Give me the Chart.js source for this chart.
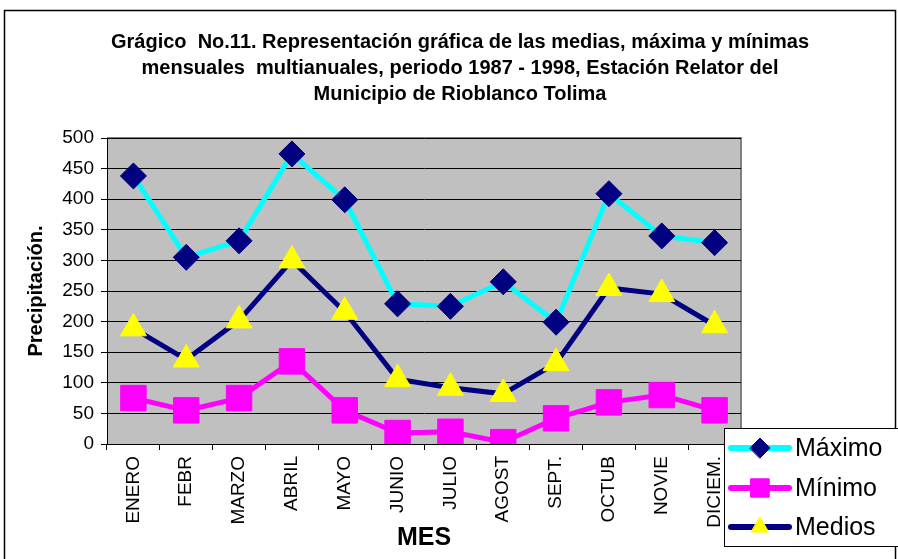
<!DOCTYPE html>
<html>
<head>
<meta charset="utf-8">
<script src="https://cdn.jsdelivr.net/npm/chart.js@4"></script>
<style>
  body { margin: 0; background: #fff; }
  #wrap { width: 898px; height: 559px; }
</style>
</head>
<body>
<div id="wrap"><canvas id="chart" width="898" height="559"></canvas></div>
<script>
let months = ["ENERO","FEBR","MARZO","ABRIL","MAYO","JUNIO","JULIO","AGOST","SEPT.","OCTUB","NOVIE","DICIEM."];
let maximo = [438, 305, 332, 474, 399, 229, 225, 265, 199, 409, 340, 329];
let minimo = [75, 55, 75, 135, 55, 18, 20, 3, 42, 68, 80, 55];
let medios = [189, 138, 202, 300, 216, 106, 92, 82, 132, 255, 245, 194];
let titleLines = [
    "Grágico  No.11. Representación gráfica de las medias, máxima y mínimas",
    "mensuales  multianuales, periodo 1987 - 1998, Estación Relator del",
    "Municipio de Rioblanco Tolima"
];

const FONT = "Arial, 'Liberation Sans', sans-serif";

/* fondo gris, borde exterior, titulo y leyenda */
const decor = {
    id: "decor",
    beforeDraw(chart) {
        let ctx = chart.ctx, a = chart.chartArea;
        ctx.save();
        ctx.fillStyle = "#fff";
        ctx.fillRect(0, 0, chart.width, chart.height);
        ctx.fillStyle = "#c0c0c0";
        ctx.fillRect(a.left, a.top, a.right - a.left, a.bottom - a.top);
        ctx.strokeStyle = "#808080";
        ctx.lineWidth = 2;
        ctx.beginPath();
        ctx.moveTo(a.left, a.top);
        ctx.lineTo(a.right, a.top);
        ctx.lineTo(a.right, a.bottom);
        ctx.stroke();
        ctx.restore();
    },
    afterDraw(chart) {
        let ctx = chart.ctx;
        ctx.save();
        // borde exterior
        ctx.strokeStyle = "#000";
        ctx.lineWidth = 1.5;
        ctx.strokeRect(4.5, 10.5, 891, 600);

        // titulo
        ctx.fillStyle = "#000";
        ctx.font = "bold 20px " + FONT;
        ctx.textAlign = "center";
        ctx.textBaseline = "middle";
        titleLines.forEach((t, i) => ctx.fillText(t, 460, 42 + i * 26));

        // leyenda
        ctx.fillStyle = "#fff";
        ctx.fillRect(724, 428, 180, 118);
        ctx.strokeStyle = "#000";
        ctx.lineWidth = 1;
        ctx.strokeRect(724.5, 428.5, 180, 118);
        let rows = [448, 488, 527];
        chart.data.datasets.forEach((ds, i) => {
            let y = rows[i];
            ctx.strokeStyle = ds.borderColor;
            ctx.lineWidth = 6;
            ctx.lineCap = "round";
            ctx.beginPath();
            ctx.moveTo(731, y);
            ctx.lineTo(789, y);
            ctx.stroke();

            ctx.lineWidth = 1;
            ctx.fillStyle = ds.pointBackgroundColor;
            ctx.strokeStyle = ds.pointBorderColor;
            Chart.helpers.drawPoint(ctx, {
                pointStyle: ds.pointStyle,
                radius: ds.pointStyle === "rect" ? 13 : 10,
                borderWidth: 1
            }, 760, y);

            ctx.fillStyle = "#000";
            ctx.font = "25px " + FONT;
            ctx.textAlign = "left";
            ctx.textBaseline = "middle";
            ctx.fillText(ds.label, 795, y + 1);
        });
        ctx.restore();
    }
};

new Chart(document.getElementById("chart"), {
    type: "line",
    data: {
        labels: months,
        datasets: [
            {
                label: "Máximo",
                data: maximo,
                borderColor: "#00ffff",
                borderWidth: 5,
                pointStyle: "rectRot",
                pointRadius: 13,
                pointBackgroundColor: "#000080",
                pointBorderColor: "#000080",
                pointBorderWidth: 1,
                order: 3
            },
            {
                label: "Mínimo",
                data: minimo,
                borderColor: "#ff00ff",
                borderWidth: 5,
                pointStyle: "rect",
                pointRadius: 18,
                pointBackgroundColor: "#ff00ff",
                pointBorderColor: "#ff00ff",
                pointBorderWidth: 1,
                order: 2
            },
            {
                label: "Medios",
                data: medios,
                borderColor: "#000080",
                borderWidth: 5,
                pointStyle: "triangle",
                pointRadius: 15,
                pointBackgroundColor: "#ffff00",
                pointBorderColor: "#ffff00",
                pointBorderWidth: 1,
                order: 1
            }
        ]
    },
    options: {
        responsive: false,
        animation: false,
        devicePixelRatio: 1,
        layout: { padding: { left: 5, right: 157, top: 138, bottom: 0 } },
        plugins: {
            legend: { display: false },
            tooltip: { enabled: false },
            title: { display: false }
        },
        scales: {
            x: {
                offset: true,
                grid: { offset: true, drawOnChartArea: false, drawTicks: true, tickLength: 6, color: "#000" },
                border: { color: "#000", width: 1 },
                ticks: {
                    minRotation: 90, maxRotation: 90, autoSkip: false, padding: 6,
                    color: "#000", font: { family: FONT, size: 19 }
                },
                title: {
                    display: true, text: "MES", color: "#000",
                    font: { family: FONT, size: 25, weight: "bold" },
                    padding: { top: 0, bottom: 6 }
                },
                afterFit(scale) { scale.height = 115; }
            },
            y: {
                min: 0, max: 500,
                grid: { color: "#000", lineWidth: 1, tickLength: 6 },
                border: { color: "#000", width: 1 },
                ticks: {
                    stepSize: 50, padding: 7, color: "#000",
                    font: { family: FONT, size: 19 }
                },
                title: {
                    display: true, text: "Precipitación.", color: "#000",
                    font: { family: FONT, size: 20, weight: "bold" },
                    padding: { top: 19, bottom: 0 }
                },
                afterFit(scale) { scale.width = 102; }
            }
        }
    },
    plugins: [decor]
});
</script>
</body>
</html>
